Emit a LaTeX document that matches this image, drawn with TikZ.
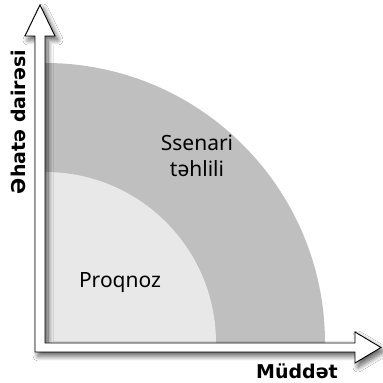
\documentclass[tikz,border=0pt]{standalone}
\usepackage{fontspec}
\setmainfont{Noto Sans}
\newfontfamily\axfont{DejaVu Sans}
\usepackage{tikz}
\usetikzlibrary{shadows.blur}

\begin{document}
\begin{tikzpicture}[x=1pt, y=1pt,
  axis/.style={draw=black, line width=0.9pt, fill=white, line join=miter,
    blur shadow={shadow xshift=3pt, shadow yshift=-4pt, shadow blur radius=5pt,
      shadow blur steps=10, shadow opacity=65}},
  zone/.style={fill=#1, draw=none},
  lbl/.style={font=\fontsize{21}{26}\selectfont, anchor=base, inner sep=0pt},
  axlbl/.style={font=\axfont\fontsize{19}{24}\selectfont\bfseries, anchor=base, inner sep=0pt}]

\useasboundingbox (0,0) rectangle (383,383);
\fill[white] (0,0) rectangle (383,383);

\coordinate (O) at (45,40);

% the two rings
\fill[zone=black!25] (O) -- ++(280,0) arc[start angle=0, end angle=90, radius=280] -- cycle;
\fill[zone=black!9] (O) -- ++(171,0) arc[start angle=0, end angle=90, radius=171] -- cycle;

% both axes as one outlined shape
\coordinate (ytip) at (40,378);
\coordinate (xtip) at (381,35.5);
\path[axis] (ytip) -- (55,347) -- (45,347) -- (O) -- (355,40) -- (355,51) -- (xtip)
  -- (355,20) -- (355,31) -- (35,31) -- (35,347) -- (25,347) -- cycle;

\node[axlbl] (xlab) at (297,5) {Müddət};
\node[axlbl, rotate=90] (ylab) at (25,261) {Əhatə dairəsi};

\node[lbl, align=center] (ssenari) at (197,206) {Ssenari\\təhlili};
\node[lbl] (proqnoz) at (120,95) {Proqnoz};

\end{tikzpicture}
\end{document}
